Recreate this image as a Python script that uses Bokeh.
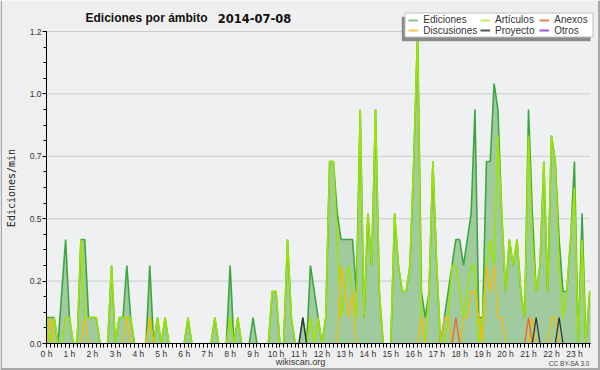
import math
from bokeh.plotting import figure
from bokeh.models import Range1d, FixedTicker, Legend, LegendItem, Label, NumeralTickFormatter
from bokeh.embed import file_html
from bokeh.resources import INLINE

# ---- data: edits per minute, one value per 10-minute bin (144 bins) ----
ediciones = [
    0.1, 0.1, 0.1, 0, 0.2, 0.4, 0.1, 0, 0, 0.4, 0.4, 0.1,
    0.1, 0.1, 0, 0, 0, 0.3, 0, 0.1, 0.1, 0.3, 0.1, 0,
    0, 0, 0, 0.3, 0, 0.1, 0, 0.1, 0, 0, 0, 0,
    0, 0.1, 0, 0, 0, 0, 0, 0, 0.1, 0, 0, 0,
    0.3, 0, 0.1, 0, 0, 0, 0.1, 0, 0, 0, 0, 0.2,
    0.2, 0, 0, 0.4, 0.1, 0, 0, 0.1, 0, 0.3, 0.2, 0.1,
    0, 0.1, 0.7, 0.7, 0.5, 0.4, 0.4, 0.4, 0.4, 0.2, 0.9, 0.1,
    0.5, 0.3, 0.9, 0.2, 0, 0, 0, 0.5, 0.3, 0.2, 0.2, 0.3,
    0.7, 1.2, 0.2, 0.1, 0.2, 0.7, 0.3, 0, 0.1, 0.2, 0.3, 0.4,
    0.4, 0.3, 0.4, 0.5, 0.9, 0.1, 0.1, 0.7, 0.7, 1.0, 0.9, 0.5,
    0.2, 0.4, 0.3, 0.4, 0.2, 0.1, 0.9, 0.5, 0.2, 0.3, 0.7, 0.2,
    0.8, 0.7, 0.4, 0.2, 0.2, 0.4, 0.7, 0, 0.5, 0, 0.2, 0.2,
]
articulos = [
    0.1, 0, 0.1, 0, 0, 0.1, 0.1, 0, 0, 0.4, 0.1, 0.1,
    0.1, 0.1, 0, 0, 0, 0.3, 0, 0.1, 0.1, 0.1, 0.1, 0,
    0, 0, 0, 0.1, 0, 0.1, 0, 0.1, 0, 0, 0, 0,
    0, 0.1, 0, 0, 0, 0, 0, 0, 0.1, 0, 0, 0,
    0.1, 0, 0.1, 0, 0, 0, 0, 0, 0, 0, 0, 0.2,
    0.2, 0, 0, 0.4, 0.1, 0, 0, 0, 0, 0.1, 0, 0.1,
    0, 0.1, 0.7, 0.7, 0.4, 0.1, 0.2, 0.3, 0.2, 0.1, 0.9, 0.1,
    0.5, 0.3, 0.9, 0.2, 0, 0, 0, 0.5, 0.3, 0.2, 0.2, 0.3,
    0.7, 1.2, 0.1, 0, 0.2, 0.7, 0.3, 0, 0, 0.1, 0.3, 0.3,
    0.2, 0.1, 0.2, 0.3, 0.3, 0, 0.1, 0.3, 0.4, 0.3, 0.8, 0.5,
    0.2, 0.4, 0.3, 0.4, 0.2, 0.1, 0.8, 0.4, 0.2, 0.3, 0.7, 0.2,
    0.8, 0.7, 0.3, 0.1, 0.2, 0.4, 0.6, 0, 0.4, 0, 0.2, 0.2,
]
discusiones = [
    0, 0.1, 0, 0, 0, 0, 0, 0, 0, 0, 0.1, 0,
    0, 0, 0, 0, 0, 0, 0, 0, 0, 0.1, 0, 0,
    0, 0, 0, 0.1, 0, 0, 0, 0, 0, 0, 0, 0,
    0, 0, 0, 0, 0, 0, 0, 0, 0, 0, 0, 0,
    0, 0, 0, 0, 0, 0, 0, 0, 0, 0, 0, 0,
    0, 0, 0, 0, 0, 0, 0, 0, 0, 0, 0, 0,
    0, 0, 0, 0, 0, 0.3, 0.2, 0.1, 0.2, 0, 0, 0,
    0, 0, 0, 0, 0, 0, 0, 0, 0, 0, 0, 0,
    0, 0, 0.1, 0, 0, 0, 0, 0, 0.1, 0.1, 0, 0,
    0, 0.1, 0.1, 0.2, 0.2, 0.1, 0, 0.3, 0.2, 0.3, 0.1, 0.1,
    0, 0, 0, 0, 0, 0, 0, 0.1, 0, 0, 0, 0,
    0.1, 0.1, 0, 0, 0, 0, 0, 0, 0, 0, 0, 0,
]
anexos = [0] * 107 + [0.1] + [0] * 18 + [0.1] + [0] * 17
proyecto = [0] * 67 + [0.1] + [0] * 60 + [0.1] + [0] * 5 + [0.1] + [0] * 9
otros = [0] * 144

series_names = ["Ediciones", "Artículos", "Anexos", "Discusiones", "Proyecto", "Otros"]
line_colors = {"Ediciones": "#3ea63e", "Artículos": "#9de400", "Anexos": "#ee6428",
               "Discusiones": "#f4bc00", "Proyecto": "#333333", "Otros": "#9944ee"}
legend_colors = {"Ediciones": "#86c986", "Artículos": "#c9ec5c", "Anexos": "#f08050",
                 "Discusiones": "#fcc94a", "Proyecto": "#555555", "Otros": "#9955ee"}

hour_labels = [f"{h} h" for h in range(24)]
y_ticks = [0, 0.24, 0.48, 0.72, 0.96, 1.2]

X_END = 23.70          # last visible time (hours)
Y_MAX = 1.2
x = [i / 6 for i in range(len(ediciones))]


def visible(vals):
    n = len(vals)
    out = []
    for i, v in enumerate(vals):
        near = any(vals[j] > 0 for j in range(max(0, i - 1), min(n, i + 2)))
        out.append(v if near else float("nan"))
    return out


# the frame covers the whole canvas; the data area sits at px 46..590 x 31..343
W, H = 600, 370
px_per_h = (590 - 46) / X_END
px_per_u = (343 - 31) / Y_MAX
x_start = -46 / px_per_h
x_end = X_END + (W - 590) / px_per_h
y_start = -(H - 343) / px_per_u
y_end = Y_MAX + 31 / px_per_u


def dx(px):
    return (px - 46) / px_per_h


def dy(py):
    return (343 - py) / px_per_u


p = figure(width=W, height=H, output_backend="svg", toolbar_location=None,
           x_range=Range1d(x_start, x_end), y_range=Range1d(y_start, y_end),
           min_border_left=0, min_border_right=0, min_border_top=0, min_border_bottom=0)
BG = "#efefef"
p.background_fill_color = BG
p.border_fill_color = BG
p.outline_line_color = None
p.grid.visible = False

# plot area background + horizontal grid
p.quad(left=0, right=X_END, bottom=0, top=Y_MAX, fill_color="#eef0f2", line_color=None)
p.segment(x0=[0] * len(y_ticks), x1=[X_END] * len(y_ticks), y0=y_ticks, y1=y_ticks,
          line_color="#cccccc", line_width=1)

# area + lines
p.varea(x=x, y1=[0] * len(x), y2=ediciones, fill_color="#9fcb9f", fill_alpha=1.0)
data_by_name = {"Ediciones": ediciones, "Artículos": articulos, "Discusiones": discusiones,
                "Anexos": anexos, "Proyecto": proyecto, "Otros": otros}
for name in ["Ediciones", "Artículos", "Discusiones", "Anexos", "Proyecto", "Otros"]:
    p.line(x=x, y=visible(data_by_name[name]), line_color=line_colors[name],
           line_width=1.6 if name in ("Ediciones", "Artículos") else 1.3)


def pbox(left, right, top, bottom, color, border=None):
    """decorative box given in canvas px (from the top-left)"""
    p.quad(left=dx(left), right=dx(right), top=dy(top), bottom=dy(bottom),
           fill_color=color, line_color=border, line_width=1)


# hide whatever lies right of the plot area, draw the picture border
pbox(590, W, 0, 343, BG)
pbox(0, 1.5, 0, H, "#a8a8a8")
pbox(597.5, W, 0, H, "#a8a8a8")
pbox(0, W, 367.5, H, "#a8a8a8")

# legend frame with its drop shadow
pbox(401.3, 590, 16.3, 40.7, "#8a8a8a")
pbox(404.5, 592.5, 12.5, 36.5, "white", border="#c0c0c0")

# axes at fixed positions
p.xaxis.fixed_location = 0
p.yaxis.fixed_location = 0
p.xaxis.bounds = (0, X_END)
p.yaxis.bounds = (0, Y_MAX)
p.xaxis.ticker = FixedTicker(ticks=list(range(24)), minor_ticks=[i / 6 for i in range(143)])
p.xaxis.major_label_overrides = {h: hour_labels[h] for h in range(24)}
p.yaxis.ticker = FixedTicker(ticks=y_ticks, minor_ticks=[k * 0.06 for k in range(21)])
p.yaxis.formatter = NumeralTickFormatter(format="0.0")
for ax in (p.xaxis[0], p.yaxis[0]):
    ax.axis_line_color = "black"
    ax.major_tick_line_color = "black"
    ax.minor_tick_line_color = "black"
    ax.major_tick_in = 0
    ax.minor_tick_in = 0
    ax.major_tick_out = 4
    ax.major_label_text_font = "Liberation Sans"
    ax.major_label_text_font_size = "8.5px"
    ax.major_label_text_color = "#333333"
    ax.major_label_standoff = 1
p.xaxis.minor_tick_out = 4
p.yaxis.minor_tick_out = 3


# texts (positions in px from the top-left of the canvas)
def txt(text, sx, sy, **kw):
    p.add_layout(Label(x=sx, y=H - sy, x_units="screen", y_units="screen", text=text, **kw))


txt("Ediciones por ámbito", 85, 17.5, text_font="Liberation Sans", text_font_style="bold",
    text_font_size="12px", text_color="#111111", text_baseline="alphabetic")
txt("2014-07-08", 217.3, 17.5, text_font="DejaVu Sans", text_font_style="bold",
    text_font_size="11.5px", text_color="#111111", text_baseline="alphabetic")
txt("Ediciones/min", 11, 187.5, angle=math.pi / 2, text_align="center", text_baseline="middle",
    text_font="DejaVu Sans Mono", text_font_size="10px", text_color="#222222")
txt("wikiscan.org", 300, 361.5, text_align="center", text_baseline="middle",
    text_font="Liberation Sans", text_font_size="9px", text_color="#333333")
txt("CC BY-SA 3.0", 589.3, 362.5, text_align="right", text_baseline="middle",
    text_font="Liberation Sans", text_font_size="6.5px", text_color="#444444")

# legend: one entry per cell of a 3 x 2 grid
col_x = [408.3, 480, 539.3]
row_y = [19, 29.3]
ROW_H = 12.5
nan = float("nan")
for k, name in enumerate(series_names):
    r = p.line(x=[nan], y=[nan], line_color=legend_colors[name], line_width=2)
    cx, cy = col_x[k % 3], row_y[k // 3]
    lg = Legend(items=[LegendItem(label=name, renderers=[r])],
                location=(cx, H - cy - ROW_H / 2), orientation="horizontal",
                background_fill_alpha=0, border_line_color=None, margin=0, padding=0,
                spacing=0, glyph_width=10, glyph_height=10, label_height=10, label_standoff=5,
                label_text_font="Liberation Sans", label_text_font_size="10px",
                label_text_color="#333333")
    p.add_layout(lg)

open("out.html", "w").write(file_html(p, INLINE))
